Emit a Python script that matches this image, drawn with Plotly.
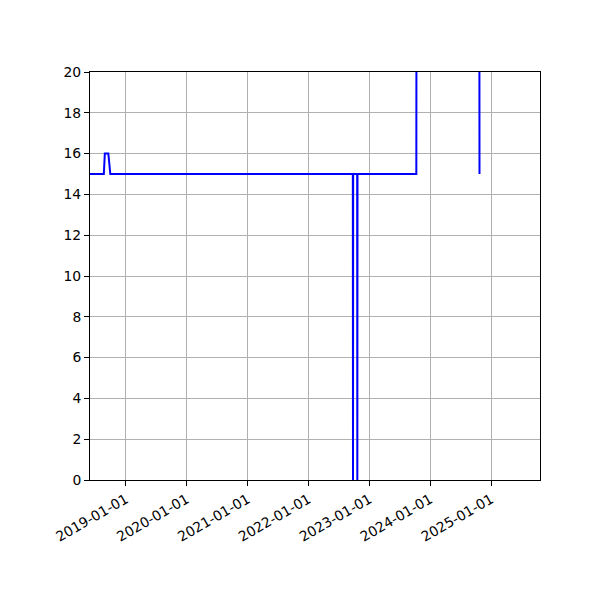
import plotly.graph_objects as go

# values
dates = ["2018-05-31", "2018-08-22", "2018-08-28", "2018-09-18", "2018-09-30",
         "2022-09-24", "2022-09-25", "2022-09-26",
         "2022-10-20", "2022-10-21", "2022-10-22",
         "2023-10-10", "2023-10-11", "2024-10-22", "2024-10-23"]
values = [15, 15, 16, 16, 15,
          15, 0, 15,
          15, 0, 15,
          15, 25, 25, 15]

fig = go.Figure(go.Scatter(
    x=dates, y=values, mode="lines",
    line=dict(color="blue", width=2),
))

axis_style = dict(
    showline=True, linecolor="black", linewidth=1, mirror=True,
    ticks="outside", ticklen=5, tickcolor="black",
    showgrid=True, gridcolor="#b0b0b0", gridwidth=1,
    zeroline=False,
    tickfont=dict(family="DejaVu Sans", size=13.9, color="black"),
)

# page body adds 8px offset, so margins are shifted to compensate
fig.update_layout(
    width=600, height=600,
    margin=dict(l=82, r=68, t=64, b=128),
    plot_bgcolor="white", paper_bgcolor="white",
    showlegend=False,
    xaxis=dict(range=["2018-05-31", "2025-10-21"], tickformat="%Y-%m-%d",
               dtick="M12", tick0="2019-01-01", tickangle=-30, **axis_style),
    yaxis=dict(range=[0, 20], dtick=2, **axis_style),
)

fig.write_html("out.html")
